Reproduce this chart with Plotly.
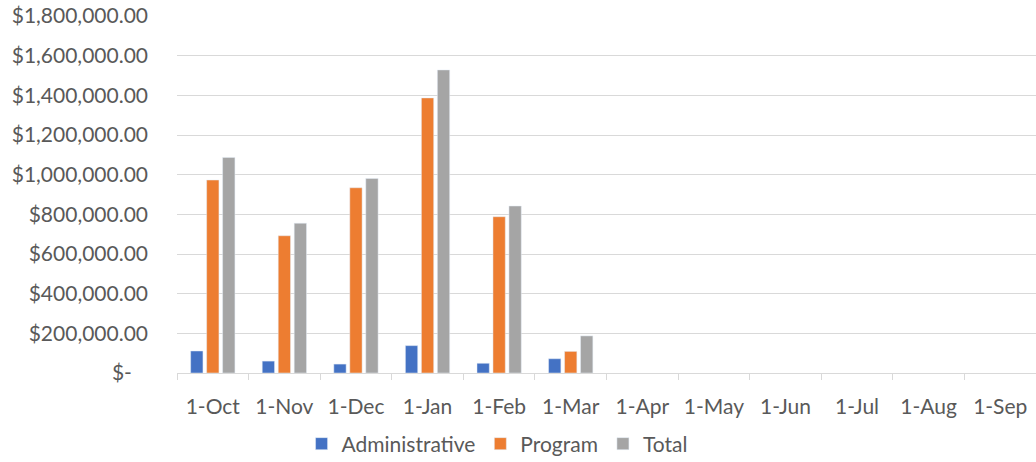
import plotly.graph_objects as go

months = ["1-Oct", "1-Nov", "1-Dec", "1-Jan", "1-Feb", "1-Mar",
          "1-Apr", "1-May", "1-Jun", "1-Jul", "1-Aug", "1-Sep"]
administrative = [111000, 60000, 45000, 138000, 49000, 72000, None, None, None, None, None, None]
program = [973000, 692000, 934000, 1387000, 788000, 109000, None, None, None, None, None, None]
total = [1087000, 755000, 981000, 1528000, 842000, 187000, None, None, None, None, None, None]

y_tickvals = [0, 200000, 400000, 600000, 800000, 1000000, 1200000, 1400000, 1600000, 1800000]
y_ticktext = ["$-\u00a0\u00a0\u00a0", "$200,000.00", "$400,000.00", "$600,000.00", "$800,000.00",
              "$1,000,000.00", "$1,200,000.00", "$1,400,000.00", "$1,600,000.00", "$1,800,000.00"]

FONT = "Lato, Carlito, Calibri, sans-serif"
FS = 21
GRID = "#d9d9d9"
TEXT = "#595959"

fig = go.Figure()
fig.add_trace(go.Bar(name="Administrative", x=months, y=administrative, marker_color="#4472C4"))
fig.add_trace(go.Bar(name="Program", x=months, y=program, marker_color="#ED7D31"))
fig.add_trace(go.Bar(name="Total", x=months, y=total, marker_color="#A5A5A5"))

fig.update_layout(
    width=1036, height=462,
    margin=dict(l=177, r=0, t=16, b=89, autoexpand=False),
    paper_bgcolor="white", plot_bgcolor="white",
    barmode="group", bargap=0.33, bargroupgap=0.23,
    font=dict(family=FONT, size=FS, color=TEXT),
    showlegend=True,
    legend=dict(orientation="h", x=0.145, xanchor="left",
                yref="container", y=0.039, yanchor="middle",
                font=dict(family=FONT, size=FS, color=TEXT), itemwidth=30,
                bgcolor="rgba(0,0,0,0)"),
    xaxis=dict(type="category", categoryorder="array", categoryarray=months,
               showline=True, linecolor=GRID, linewidth=1.3,
               ticks="outside", tickson="boundaries", ticklen=6, tickcolor=GRID, tickwidth=1.3,
               showgrid=False, tickfont=dict(family=FONT, size=FS, color=TEXT),
               ticklabelstandoff=15),
    yaxis=dict(range=[0, 1800000], tickvals=y_tickvals, ticktext=y_ticktext,
               showgrid=True, gridcolor=GRID, gridwidth=1.3, zeroline=False,
               showline=False, ticks="", ticklabelstandoff=28,
               tickfont=dict(family=FONT, size=FS, color=TEXT)),
)

fig.write_html("out.html", config={"displayModeBar": False},
               post_script="document.body.style.margin='0';document.body.style.overflow='hidden';")
